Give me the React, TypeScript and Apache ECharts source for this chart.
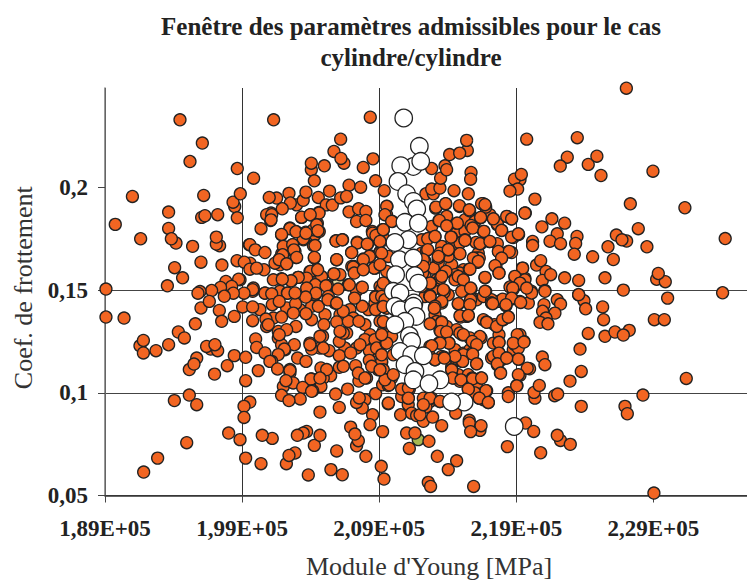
import React, { useEffect, useRef } from "react";
import * as echarts from "echarts";

// x values in thousands of MPa, y values are the friction coefficient
const orangeDense: [number, number][] = [
[199.53,.1721],[199.58,.1631],[201.71,.1651],[201.89,.1677],[202.13,.1688],[202.93,.1659],[202.69,.1721],[202.25,.1628],[202.86,.1688],[201.76,.1623],[201.4,.1631],[204.2,.1717],[204.27,.1656],[204.32,.1769],[203.64,.1782],[202.93,.1785],[202.49,.1802],[203.47,.1745],[201.88,.1769],[204.49,.1826],[204.63,.1785],[204.2,.1794],[203.34,.1854],[204.0,.1867],[204.6,.1878],[205.85,.1740],[206.33,.1745],[207.4,.1733],[208.16,.1724],[208.76,.1766],[208.5,.1785],[209.25,.1794],[206.99,.1683],[209.05,.1685],[205.9,.1648],[207.84,.1651],[208.33,.1667],[207.16,.1615],[207.0,.1615],[207.84,.1602],[208.69,.1607],[204.44,.1602],[203.95,.1591],[205.7,.1579],[206.14,.1575],[201.88,.1555],[202.62,.1547],[203.1,.1562],[204.32,.1526],[205.22,.1523],[206.75,.1526],[207.72,.1513],[199.82,.1510],[198.85,.1550],[209.06,.1518],[203.83,.1558],[201.28,.1550],[204.8,.1566],[201.08,.1839],[201.11,.1875],[200.79,.1867],
[201.64,.1299],[201.64,.1267],[201.88,.1234],[203.95,.1242],[204.68,.1218],[206.63,.1291],[206.5,.1218],[207.35,.1218],[208.57,.1202],[209.3,.1299],[205.05,.1112],[204.8,.1077],[202.49,.1113],[202.49,.1096],[202.01,.1031],[204.07,.1067],[207.96,.0966],[199.77,.1494],[200.67,.1486],[201.76,.1494],[202.3,.1486],[204.32,.1478],[205.78,.1437],[207.35,.1497],[209.42,.1453],[204.07,.1421],[206.87,.1405],[208.21,.1405],[208.69,.1437],[207.11,.1364],[207.96,.1332],[209.06,.1348],[206.14,.1380],[205.05,.1380],[204.07,.1356],[203.22,.1405],[202.25,.1413],[200.3,.1405],[201.28,.1364],
[215.26,.1843],[215.99,.1835],[217.08,.1867],[212.83,.1810],[214.65,.1786],[215.26,.1786],[213.56,.1713],[214.53,.1713],[214.89,.1729],[213.31,.1632],[212.95,.1607],[214.29,.1624],[215.14,.1599],[214.04,.1664],[216.23,.1680],[216.11,.1656],[214.89,.1583],[214.53,.1575],[216.11,.1453],[216.6,.1469],[217.69,.1445],[218.05,.1453],[212.95,.1502],[213.19,.1550],[214.04,.1477],[212.34,.1567],[212.34,.1469],
[213.07,.1380],[213.92,.1323],[213.19,.1347],[215.38,.1372],[214.65,.1307],[216.6,.1356],[214.53,.1210],[215.14,.1193],[215.62,.1210],[213.56,.1177],[212.71,.1177],[217.33,.1242],[217.93,.1161],[218.78,.1210],[219.15,.1266],[214.77,.1088],[215.5,.1088],[216.11,.1047],[214.29,.1128],[216.0,.0999],[216.6,.0966],[212.71,.0958],[212.22,.0974],[210.64,.0982],
[209.42,.1745],[209.67,.1664],[209.55,.1591],[209.55,.1510],[212.1,.1680],[212.17,.1583],
];
const orangeUpperLeft: [number, number][] = [
[194.47,.2329],[201.30,.2329],[208.35,.2342],[206.19,.2235],[205.70,.2175],[206.43,.2118],[206.21,.2141],[204.05,.2086],[204.05,.2118],[205.0,.2105],[208.55,.2139],[207.84,.2097],[196.1,.2216],[195.2,.2126],[198.65,.2092],[199.84,.2045],[204.27,.2032],[208.74,.2032],[206.8,.2011],[207.65,.2001],[209.37,.1984],[191.0,.1956],[196.2,.1961],[198.46,.1907],[198.34,.1928],[198.87,.1969],[198.65,.1852],[193.64,.1880],[196.05,.1854],[196.29,.1862],[197.22,.1867],[189.75,.1820],[193.64,.1800],[194.18,.1729],[193.84,.1750],[191.6,.1750],[195.39,.1713],[197.36,.1716],[197.12,.1724],[197.12,.1758],[196.0,.1636],[194.08,.1609],[194.66,.1560],[193.55,.1521],[197.53,.1622],[198.63,.1643],[199.16,.1636],[189.07,.1505],[199.57,.1721],[199.96,.1696],[200.67,.1683],[200.38,.1799],[201.16,.1867],[201.11,.1842],[201.52,.1948],[200.98,.1951],[202.42,.1971],[202.98,.1915],[202.52,.1924],[201.93,.1896],[203.46,.1937],[203.66,.1977],[204.56,.1951],[205.38,.1982],[205.14,.1915],[205.58,.1914],[206.19,.1949],[206.62,.1956],[203.34,.1855],[204.61,.1875],[203.97,.1867],[206.8,.1881],[207.5,.1896],[208.03,.1883],[207.35,.1834],[208.03,.1839],[209.57,.1907],[209.54,.1867],[209.95,.1834],[204.44,.1818],[204.53,.1789],[202.49,.1799],[203.46,.1750],[202.93,.1784],[203.66,.1777],[201.88,.1771],[205.85,.1739],[206.31,.1745],[207.4,.1730],[209.3,.1794],[209.06,.1737],[208.13,.1724],[208.52,.1777],[208.76,.1766],[206.99,.1683],[209.06,.1683],[208.28,.1664],[207.84,.1648],[204.32,.1717],[202.0,.1713],[202.69,.1721],[202.78,.1696],[201.96,.1672],[201.71,.1648],[202.98,.1659],[202.25,.1628],[204.27,.1659],[205.9,.1648],[204.0,.1591],[204.51,.1599],[205.7,.1579],[208.64,.1607],[207.11,.1612],[207.18,.1583],[207.84,.1599],[203.71,.1558],[203.1,.1562],[202.57,.1545],[201.93,.1553],[199.57,.1602],[200.6,.1599],[200.06,.1607],[197.82,.1542],[198.75,.1553],[198.24,.1518],[197.43,.1513],[196.78,.1498],[195.93,.1493],[195.78,.1485],[199.77,.1502],[199.14,.1485],[198.36,.1485],[200.67,.1485],[201.16,.1482],[202.32,.1485],[204.34,.1526],[205.12,.1521],[206.82,.1526],[207.77,.1514],[206.0,.1505],[203.71,.1510],[204.39,.1485],[205.29,.1469],[209.18,.1505],[208.74,.1469],
];
const orangeUpperRight: [number, number][] = [
[227.03,.2483],[219.76,.2235],[223.45,.2242],[222.72,.2147],[222.21,.2104],[224.25,.2112],[224.88,.2152],[225.18,.2058],[228.97,.2079],[219.27,.2037],[218.86,.2040],[219.37,.2063],[219.1,.1992],[218.54,.1982],[220.36,.1943],[227.32,.1920],[231.3,.1901],[219.66,.1875],[221.6,.1847],[222.53,.1826],[220.87,.1808],[221.99,.1774],[221.46,.1738],[222.23,.1726],[223.43,.1761],[223.33,.1727],[223.23,.1675],[224.57,.1662],[225.69,.1711],[226.3,.1768],[227.05,.1739],[226.71,.1745],[227.9,.1799],[228.53,.1711],[226.08,.1649],[234.24,.1751],[220.19,.1737],[220.19,.1717],[218.78,.1756],[219.17,.1771],[218.35,.1857],[218.66,.1846],[220.48,.1622],[220.78,.1643],[221.17,.1591],[220.9,.1547],[221.51,.1575],[221.09,.1498],[222.53,.1560],[223.55,.1547],[225.47,.1560],[226.81,.1500],[229.24,.1553],[229.87,.1541],[229.36,.1581],[234.05,.1487],[230.04,.1461],[223.55,.1477],[220.1,.1494],[219.46,.1607],[219.63,.1558],[218.9,.1562],[219.39,.1542],[219.07,.1531],[218.54,.1515],[218.78,.1505],[218.66,.1461],[218.0,.1456],[217.74,.1583],[217.52,.1618],[217.93,.1656],[217.71,.1688],[218.66,.1683],[218.42,.1688],[217.62,.1726],[217.03,.1737],[216.06,.1732],[216.4,.1726],[215.26,.1745],[213.07,.1761],[212.53,.1750],[214.26,.1758],[214.04,.1696],[214.87,.1677],[213.43,.1680],[212.46,.1693],[213.31,.1656],[212.34,.1640],[216.3,.1656],[216.16,.1635],[215.57,.1602],[216.72,.1560],[214.77,.1558],[215.09,.1550],[213.48,.1558],[213.85,.1588],[212.75,.1534],[213.73,.1498],[215.7,.1505],[216.77,.1493],[212.7,.1472],[215.7,.1461],[217.2,.1453],[216.77,.1904],[216.6,.1920],[215.6,.1886],[214.87,.1907],[213.85,.1920],[213.12,.1899],[213.36,.1839],[213.97,.1813],[214.65,.1826],[215.7,.1815],[216.4,.1852],[216.6,.1786],[217.37,.1842],[217.93,.1790],[217.62,.1818],[215.5,.1969],[214.46,.1984],[212.41,.1969],[212.95,.1969],[212.83,.1992],[213.43,.1997],[213.48,.2045],[213.8,.2105],[213.92,.2086],[212.83,.2092],[215.7,.2073],[215.67,.2040],[215.43,.2180],[214.14,.2160],[214.87,.2167],[215.38,.2229],
];
const orangeLowerLeft: [number, number][] = [
[189.07,.1369],[190.39,.1364],[195.59,.1336],[196.0,.1413],[196.61,.1445],[197.7,.1470],[197.34,.1401],[197.51,.1348],[198.43,.1372],[199.04,.1418],[199.77,.1418],[199.77,.1351],[200.74,.1359],[200.79,.1323],[200.91,.1332],[201.2,.1429],[201.71,.1445],[202.9,.1434],[201.88,.1369],[202.74,.1388],[203.66,.1385],[204.56,.1421],[205.85,.1437],[205.26,.1453],[205.9,.1345],[204.97,.1332],[206.75,.1348],[207.52,.1348],[207.77,.1421],[208.74,.1405],[208.74,.1466],[209.42,.1340],[202.93,.1323],[202.25,.1307],[201.71,.1283],[208.33,.1283],[206.09,.1250],[204.87,.1275],[204.07,.1213],[203.95,.1234],[202.13,.1210],[202.81,.1234],[202.08,.1213],[201.64,.1186],[199.99,.1262],[200.06,.1221],[200.67,.1194],[201.16,.1153],[201.03,.1153],[201.59,.1116],[203.05,.1169],[203.66,.1153],[202.49,.1108],[205.34,.1205],[206.09,.1181],[206.92,.1194],[208.28,.1205],[208.28,.1158],[207.28,.1132],[206.09,.1124],[204.75,.1121],[209.18,.1148],[208.93,.1112],[205.46,.1083],[208.08,.1072],[207.52,.1057],[202.73,.1048],[202.2,.1059],[204.02,.1067],[204.92,.1072],[204.75,.1031],[203.42,.1026],[204.15,.1010],[204.07,.1007],[201.88,.0988],[203.24,.0970],[202.42,.0962],[205.82,.0994],[206.7,.1018],[208.74,.0996],[209.25,.1039],[209.91,.1072],[209.66,.1035],[207.77,.0926],[207.35,.0953],[207.55,.0975],[206.09,.0929],[209.66,.0947],[204.68,.0906],[208.52,.0893],[208.33,.0845],[206.92,.0833],[207.35,.0742],[207.48,.0767],[207.23,.0799],[209.25,.0811],[208.03,.0691],[209.15,.0642],[209.35,.0580],[205.48,.0626],[206.31,.0601],[203.83,.0600],[205.9,.0717],[204.27,.0744],[204.68,.0793],[203.71,.0812],[203.46,.0804],[203.03,.0793],[201.2,.0778],[200.47,.0793],[198.85,.0772],[198.02,.0804],[199.26,.0682],[200.38,.0655],[202.23,.0655],[202.86,.0707],[202.42,.0695],[194.96,.0757],[192.84,.0682],[191.82,.0614],[194.06,.0962],[195.69,.0942],[195.15,.0989],[199.57,.0955],[199.14,.0934],[199.14,.0880],[199.26,.1059],[200.18,.1108],[196.99,.1091],[197.92,.1132],[198.43,.1181],[199.26,.1173],[195.69,.1169],[195.15,.1113],[195.49,.1140],[191.55,.1229],[191.8,.1255],[191.8,.1194],[192.72,.1205],[193.64,.1234],[194.35,.1296],[194.79,.1267],[196.71,.1213],[196.41,.1226],[197.22,.1205],[197.02,.1234],[211.12,.0942],[211.12,.0975],[210.76,.1018],[211.2,.1018],[210.56,.0893],[211.37,.0901],[211.73,.0889],[211.0,.0804],[211.61,.0804],[211.2,.0729],
[203.64,.1466],[202.86,.1486],[206.38,.1397],[207.2,.1461],[205.9,.1437],[209.3,.1421],[207.96,.1259],[207.6,.1234],[208.69,.1259],[208.81,.1218],[209.18,.1153],[204.92,.1218],[204.68,.1275],[206.38,.1291],[206.14,.1299],[207.48,.1096],[207.96,.1072],[205.17,.1113],[204.68,.1072],[206.38,.1129],[208.45,.1129],[209.3,.1112],[209.54,.1064],[209.5,.1242],
];
const orangeLowerRight: [number, number][] = [
[212.63,.0764],[213.56,.0840],[214.58,.0901],[212.22,.0861],[212.9,.0882],[213.24,.0691],[214.65,.0669],[214.04,.0626],[212.58,.0564],[212.75,.0544],[215.89,.0544],[215.57,.0866],[215.57,.0853],[216.35,.0817],[216.43,.0840],[215.67,.0811],[218.35,.0738],[219.68,.0853],[220.27,.0812],[220.78,.0708],[222.23,.0768],[222.94,.0749],[221.99,.0793],[223.74,.0934],[226.93,.0934],[227.1,.0898],[228.24,.0989],[229.04,.0512],[231.4,.1070],[221.8,.0986],[222.02,.0994],[220.36,.0974],[220.29,.1002],[220.68,.1036],[222.92,.1057],[223.74,.1104],[223.65,.1213],[224.25,.1289],[225.47,.1275],[226.2,.1296],[227.24,.1304],[226.81,.1281],[225.37,.1356],[225.3,.1418],[223.94,.1448],[224.06,.1409],[229.07,.1356],[229.8,.1356],[223.55,.1478],[221.02,.1429],[220.92,.1397],[221.99,.1453],[222.23,.1432],[221.82,.1388],[221.17,.1364],[220.73,.1343],[221.31,.1336],[219.27,.1283],[219.56,.1250],[218.9,.1234],[219.15,.1218],[220.9,.1174],[221.09,.1137],[219.17,.1164],[219.97,.1117],[219.27,.1085],[219.05,.1035],[218.42,.1000],[218.05,.1356],[218.42,.1369],[217.40,.1332],[216.84,.1345],[217.74,.1283],[217.74,.1246],[218.25,.1169],[217.2,.1169],[217.74,.1194],[217.62,.1137],[217.84,.1096],[216.43,.1267],[215.62,.1267],[215.99,.1242],[215.06,.1283],[215.79,.1194],[216.11,.1142],[215.06,.1153],[214.29,.1113],[214.41,.1072],[214.89,.1056],[216.43,.1072],[215.79,.1072],[215.5,.1018],[216.84,.1010],[216.96,.0953],[216.3,.0974],[213.73,.1173],[214.09,.1242],[213.56,.1345],[213.43,.1304],[213.36,.1242],[212.7,.1226],[213.07,.1161],[212.83,.0974],[213.43,.0958],[212.41,.0931],[211.98,.0893],[215.5,.1375],[214.94,.1369],[214.77,.1432],[215.67,.1453],[217.2,.1437],[218.25,.1424],[218.66,.1457],[219.27,.1445],[219.88,.1437],[220.12,.1486],[221.09,.1494],[213.07,.1418],[213.56,.1437],[212.7,.1473],[213.73,.1489],[215.14,.1186],[214.53,.1169],
];
const orangeCentre: [number, number][] = [
[209.55,.1908],[209.42,.1867],[209.91,.1835],[209.3,.1794],[209.06,.1737],[209.18,.1680],[209.06,.1624],[209.3,.1534],[209.18,.1469],[209.42,.1453],[213.14,.1904],[213.85,.1921],[214.85,.1911],[215.57,.1891],[216.47,.1921],[216.72,.1916],[216.4,.1854],[217.62,.1823],[218.3,.1859],[218.66,.1847],[219.63,.1875],[213.92,.1859],[213.39,.1839],[214.7,.1826],[213.92,.1813],[215.82,.1802],[216.64,.1786],[217.33,.1847],[217.93,.1791],[218.66,.1758],[219.15,.1774],[212.1,.1745],[212.54,.1750],[213.07,.1761],[214.24,.1758],[215.26,.1742],[216.35,.1726],[217.08,.1737],[214.04,.1697],[214.89,.1677],[213.31,.1664],[212.54,.1697],[217.69,.1688],[218.49,.1688],[217.93,.1656],[215.87,.1656],[216.23,.1640],[217.45,.1619],[217.74,.1583],[215.62,.1602],[213.87,.1591],[213.56,.1567],[216.72,.1562],[214.53,.1550],[214.77,.1567],[215.14,.1550],[219.46,.1607],[218.9,.1567],[219.63,.1550],[219.27,.1534],[218.74,.1510],[219.76,.1510],[212.22,.1648],[212.22,.1615],[212.1,.1518],[212.71,.1534],[212.71,.1469],[213.68,.1502],[215.02,.1494],[215.67,.1510],[216.72,.1494],[213.56,.1445],[214.77,.1434],[215.62,.1429],[213.07,.1421],[217.2,.1437],[218.66,.1461],
[218.25,.1429],[217.28,.1434],[219.32,.1440],[214.89,.1375],[215.5,.1377],[213.02,.1412],[213.56,.1343],[213.48,.1299],[213.92,.1296],[212.71,.1336],[216.84,.1343],[217.57,.1323],[218.0,.1356],[218.42,.1369],[214.89,.1291],[215.14,.1283],[216.35,.1274],[215.79,.1250],[216.11,.1234],[214.09,.1242],[213.44,.1242],[212.83,.1229],[217.74,.1245],[217.33,.1177],[217.74,.1193],[219.15,.1164],[219.07,.1283],[218.78,.1242],[219.56,.1247],[215.82,.1188],[215.09,.1153],[214.53,.1177],[216.11,.1141],[213.07,.1161],[213.75,.1169],[217.62,.1141],[218.3,.1169],[217.86,.1096],[219.8,.1120],[219.15,.1088],[219.03,.1034],[218.42,.0982],[214.29,.1112],[214.36,.1072],[214.97,.1063],[215.82,.1068],[216.47,.1072],[215.5,.1018],[216.79,.1010],[216.3,.0974],[216.96,.0953],[210.64,.1018],[211.13,.1023],[211.13,.0974],[212.71,.0974],[213.44,.0958],[212.22,.0942],[209.67,.0950],[209.74,.1039],[209.42,.1063],[210.03,.1088],[209.06,.1112],[209.91,.1274],[209.55,.1242],[209.18,.1283],[209.3,.1347],[209.55,.1412],[209.18,.1185],[210.03,.1185],[209.3,.1420],
];
const whitePoints: [number, number][] = [
[210.79,.2338],[211.49,.2102],[210.57,.2106],[211.93,.2200],[212.03,.2127],[210.37,.2029],[211.0,.1969],[211.49,.1932],[211.74,.1895],[210.88,.1830],[211.86,.1826],[211.13,.1745],[210.15,.1732],[210.47,.1648],[211.49,.1656],[210.2,.1575],[211.61,.1570],[211.86,.1534],[210.03,.1494],[210.52,.1486],[211.54,.1437],[210.28,.1413],[210.15,.1421],[210.52,.1404],[211.49,.1421],[211.69,.1372],[210.88,.1348],[210.15,.1331],[211.2,.1278],[211.25,.1226],[211.37,.1250],[210.52,.1201],[211.37,.1185],[212.22,.1180],[210.88,.1137],[211.61,.1104],[211.49,.1063],[213.44,.1063],[212.63,.1044],[215.2,.0955],[214.28,.0955],[218.85,.0836],
];
const tanPoints: [number, number][] = [[206.0,.1531]];
const greenPoints: [number, number][] = [[211.85,.0772]];

const X_ORIGIN = 189;
const X_TICK_STEP = 10;
const X_SPAN = 46.83;
const X_TICKS = [0, 10, 20, 30, 40];
const Y_TICKS = [0.05, 0.1, 0.15, 0.2];

const TITLE = "Fenêtre des paramètres admissibles pour le cas\ncylindre/cylindre";
const X_NAME = "Module d'Young [MPa]";
const Y_NAME = "Coef. de frottement";

const SERIF = '"Liberation Serif", "Times New Roman", serif';
const shift = (pts: [number, number][]) => pts.map(([x, y]) => [x - X_ORIGIN, y]);

const dots = (pts: [number, number][], size: number, color: string, z: number) => ({
  type: "scatter",
  data: shift(pts),
  symbol: "circle",
  symbolSize: size,
  z,
  clip: true,
  silent: true,
  itemStyle: { color, opacity: 1, borderColor: "#222222", borderWidth: 1.3 },
});

export default function App() {
  const ref = useRef<HTMLDivElement>(null);
  useEffect(() => {
    const chart = echarts.init(ref.current!, undefined, { renderer: "svg" });
    chart.setOption({
      animation: false,
      backgroundColor: "#ffffff",
      title: {
        text: TITLE,
        left: 406,
        top: 6,
        textAlign: "center",
        textStyle: { fontFamily: SERIF, fontWeight: "bold", fontSize: 25, lineHeight: 31, color: "#222222" },
      },
      grid: { left: 105, right: 0, top: 88, bottom: 85.5, containLabel: false, outerBoundsMode: "none" },
      xAxis: {
        type: "value",
        min: 0,
        max: X_SPAN,
        interval: X_TICK_STEP,
        name: X_NAME,
        nameLocation: "middle",
        nameGap: 58,
        nameTextStyle: { fontFamily: SERIF, fontSize: 26, color: "#333333", padding: [0, 0, 0, 6] },
        axisLine: { show: true, lineStyle: { color: "#333333", width: 1.5 } },
        axisTick: { show: true, length: 7, customValues: X_TICKS, lineStyle: { color: "#444444", width: 1 } },
        axisLabel: {
          customValues: X_TICKS,
          margin: 21,
          fontFamily: SERIF,
          fontWeight: "bold",
          fontSize: 23,
          color: "#222222",
          formatter: (v: number) => ((v + X_ORIGIN) / 100).toFixed(2).replace(".", ",") + "E+05",
        },
        splitLine: { show: true, showMinLine: true, showMaxLine: false, lineStyle: { color: "#333333", width: 1 } },
      },
      yAxis: {
        type: "value",
        min: 0.05,
        max: 0.2484,
        interval: 0.05,
        name: Y_NAME,
        nameLocation: "middle",
        nameGap: 56,
        nameRotate: 90,
        nameTextStyle: { fontFamily: SERIF, fontSize: 26, color: "#333333", padding: [0, 0, 12, 8] },
        axisLine: { show: true, lineStyle: { color: "#777777", width: 1.5 } },
        axisTick: { show: true, length: 7, customValues: Y_TICKS, lineStyle: { color: "#444444", width: 1 } },
        axisLabel: {
          customValues: Y_TICKS,
          margin: 17,
          fontFamily: SERIF,
          fontWeight: "bold",
          fontSize: 23,
          color: "#222222",
          formatter: (v: number) => String(+v.toFixed(2)).replace(".", ","),
        },
        splitLine: { show: true, showMinLine: true, showMaxLine: false, lineStyle: { color: "#444444", width: 1 } },
      },
      series: [
        dots(tanPoints, 12, "#e8d8a0", 2),
        dots(greenPoints, 12, "#a8b850", 2),
        dots(orangeDense, 12, "#f26522", 3),
        dots(orangeUpperLeft, 12, "#f26522", 3),
        dots(orangeUpperRight, 12, "#f26522", 3),
        dots(orangeLowerLeft, 12, "#f26522", 3),
        dots(orangeLowerRight, 12, "#f26522", 3),
        dots(orangeCentre, 12, "#f26522", 3),
        dots(whitePoints, 17.5, "#ffffff", 4),
      ],
    });
    return () => chart.dispose();
  }, []);
  return <div ref={ref} style={{ position: "absolute", left: 0, top: 0, width: 747, height: 581 }} />;
}
